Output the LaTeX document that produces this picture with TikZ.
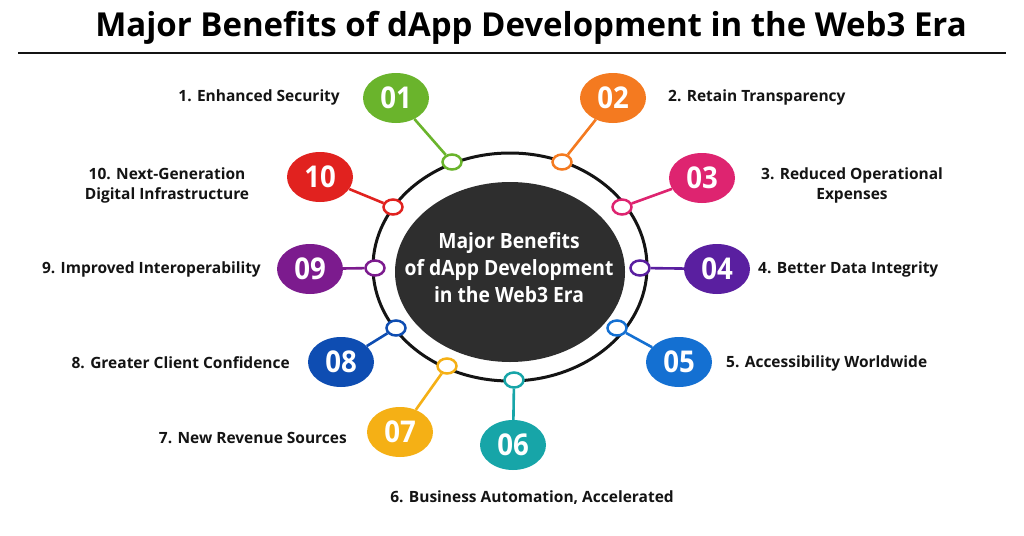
\documentclass[tikz,border=0pt]{standalone}
\usepackage{fontspec}
\setmainfont{Open Sans}
\usepackage{graphicx}
\usetikzlibrary{shapes.geometric}
\definecolor{cA}{HTML}{6AB42C}
\definecolor{cB}{HTML}{F47A20}
\definecolor{cC}{HTML}{DE2470}
\definecolor{cD}{HTML}{5A1FA0}
\definecolor{cE}{HTML}{1470D2}
\definecolor{cF}{HTML}{17A5A8}
\definecolor{cG}{HTML}{F5B015}
\definecolor{cH}{HTML}{0E4DB2}
\definecolor{cI}{HTML}{7C1B8E}
\definecolor{cJ}{HTML}{E1221F}
\definecolor{darkc}{HTML}{2E2E2E}
\definecolor{txt}{HTML}{141414}
\tikzset{
  num/.style={ellipse, fill=#1, minimum width=66pt, minimum height=50pt, inner sep=0pt, text=white, font=\bfseries\fontsize{30}{30}\selectfont},
  dot/.style={ellipse, draw=#1, fill=white, line width=2.5pt, minimum width=19pt, minimum height=15pt, inner sep=0pt},
  conn/.style={draw=#1, line width=2.6pt},
  lbl/.style={font=\bfseries\fontsize{15.5}{20}\selectfont, text=txt, inner sep=0pt, align=center},
}
\newcommand{\nm}[1]{\scalebox{0.92}[1]{#1}}
\begin{document}
\begin{tikzpicture}[x=1pt,y=-1pt]
\useasboundingbox[fill=white] (0,0) rectangle (1024,535);
% title
\node[font=\bfseries\fontsize{33}{33}\selectfont, text=black, inner sep=0pt] (title) at (531,28) {Major Benefits of dApp Development in the Web3 Era};
\coordinate (l1) at (18,53);
\coordinate (l2) at (1006,53);
\draw[line width=2.4pt, draw=txt] (l1) -- (l2);
% ring and centre
\node[ellipse, draw=txt, line width=3pt, minimum width=274pt, minimum height=228pt, inner sep=0pt] (ring) at (510,267) {};
\node[ellipse, fill=darkc, minimum width=230pt, minimum height=180pt, inner sep=0pt] (core) at (510,272) {};
\node[font=\bfseries\fontsize{21}{27}\selectfont, text=white, align=center, inner sep=0pt] (coretext) at (509,268) {\scalebox{0.92}[1]{Major Benefits}\\\scalebox{0.92}[1]{of dApp Development}\\\scalebox{0.92}[1]{in the Web3 Era}};
% dots
\node[dot=cA] (d1) at (452,162) {};
\node[dot=cB] (d2) at (562,162) {};
\node[dot=cC] (d3) at (622,207) {};
\node[dot=cD] (d4) at (640,268) {};
\node[dot=cE] (d5) at (617,328) {};
\node[dot=cF] (d6) at (514,380) {};
\node[dot=cG] (d7) at (447,366) {};
\node[dot=cH] (d8) at (396,328) {};
\node[dot=cI] (d9) at (375,268) {};
\node[dot=cJ] (d10) at (393,207) {};
% numbers
\node[num=cA] (n1) at (396,98) {\nm{01}};
\node[num=cB] (n2) at (613,98) {\nm{02}};
\node[num=cC] (n3) at (702,178) {\nm{03}};
\node[num=cD] (n4) at (717,269) {\nm{04}};
\node[num=cE] (n5) at (679,362) {\nm{05}};
\node[num=cF] (n6) at (513,445) {\nm{06}};
\node[num=cG] (n7) at (400,432) {\nm{07}};
\node[num=cH] (n8) at (341,362) {\nm{08}};
\node[num=cI] (n9) at (310,269) {\nm{09}};
\node[num=cJ] (n10) at (320,177) {\nm{10}};
% connectors
\draw[conn=cA] (d1) -- (n1);
\draw[conn=cB] (d2) -- (n2);
\draw[conn=cC] (d3) -- (n3);
\draw[conn=cD] (d4) -- (n4);
\draw[conn=cE] (d5) -- (n5);
\draw[conn=cF] (d6) -- (n6);
\draw[conn=cG] (d7) -- (n7);
\draw[conn=cH] (d8) -- (n8);
\draw[conn=cI] (d9) -- (n9);
\draw[conn=cJ] (d10) -- (n10);
% labels
\node[lbl, anchor=east] (t1) at (340,97) {1. Enhanced Security};
\node[lbl, anchor=west] (t2) at (668,97) {2. Retain Transparency};
\node[lbl] (t3) at (852,185) {3. Reduced Operational\\Expenses};
\node[lbl, anchor=west] (t4) at (758,269) {4. Better Data Integrity};
\node[lbl, anchor=west] (t5) at (726,363) {5. Accessibility Worldwide};
\node[lbl] (t6) at (532,498) {6. Business Automation, Accelerated};
\node[lbl, anchor=east] (t7) at (347,438) {7. New Revenue Sources};
\node[lbl, anchor=east] (t8) at (290,363) {8. Greater Client Confidence};
\node[lbl, anchor=east] (t9) at (261,269) {9. Improved Interoperability};
\node[lbl] (t10) at (167,185) {10. Next-Generation\\Digital Infrastructure};
\end{tikzpicture}
\end{document}
